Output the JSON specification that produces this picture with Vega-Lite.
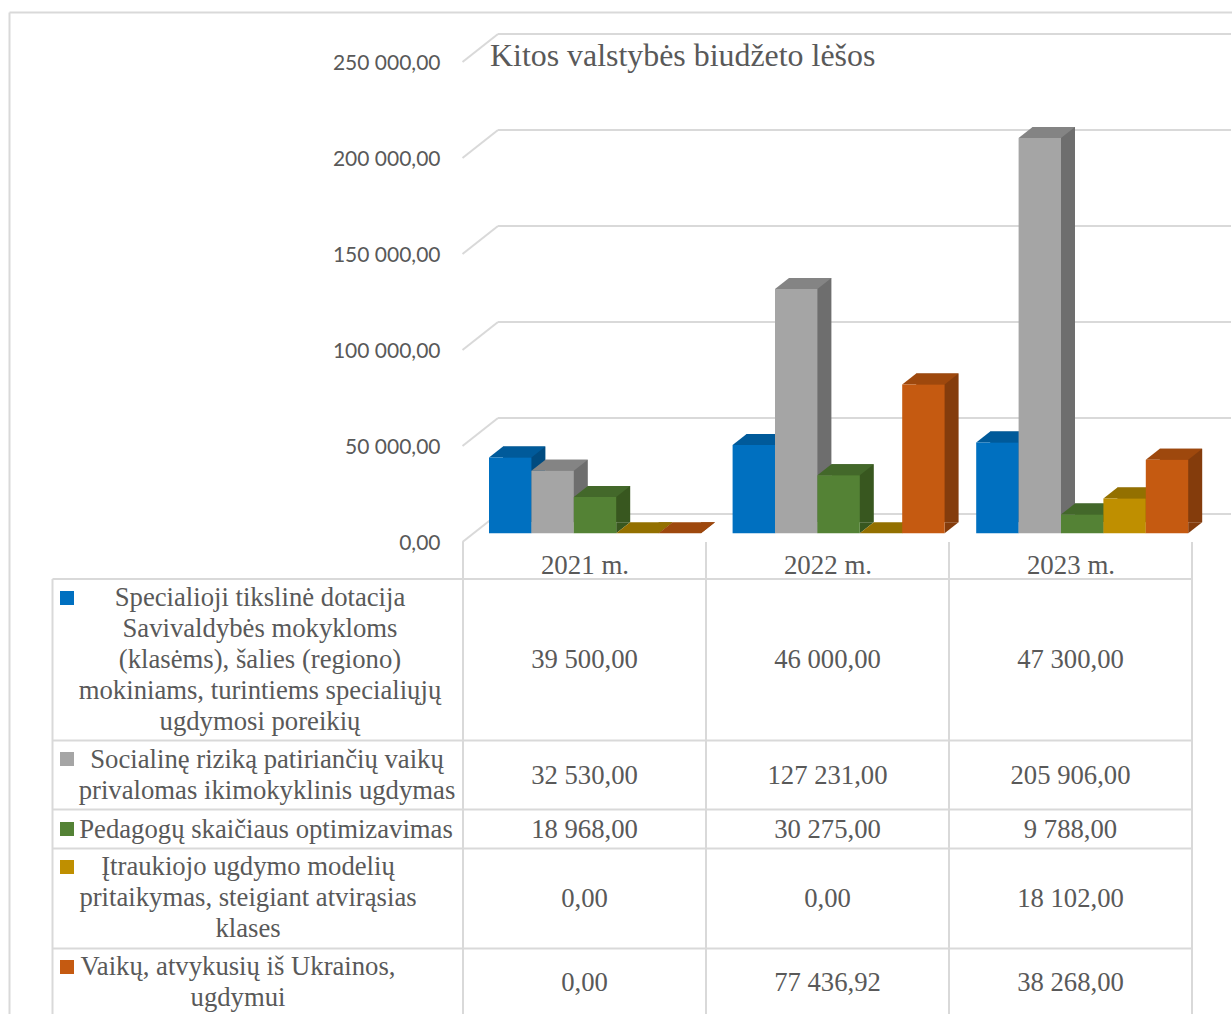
{
"$schema":"https://vega.github.io/schema/vega-lite/v6.json",
"width":1232,"height":1014,"padding":0,"autosize":{"type":"none"},"background":"white",
"config":{"view":{"stroke":null},"locale":{"number":{"decimal":",","thousands":" ","grouping":[3],"currency":["","€"]}}},
"title":{"text":"Kitos valstybės biudžeto lėšos","anchor":"start","frame":"group","orient":"top","offset":0,"dx":490,"dy":98,"baseline":"alphabetic","font":"Liberation Serif","fontSize":31.9,"fontWeight":"normal","color":"#595959"},
"datasets":{
"bars":[
{"year":"2021 m.","series":"S1","value":39500,"order":0},{"year":"2021 m.","series":"S2","value":32530,"order":1},{"year":"2021 m.","series":"S3","value":18968,"order":2},{"year":"2021 m.","series":"S4","value":0,"order":3},{"year":"2021 m.","series":"S5","value":0,"order":4},
{"year":"2022 m.","series":"S1","value":46000,"order":0},{"year":"2022 m.","series":"S2","value":127231,"order":1},{"year":"2022 m.","series":"S3","value":30275,"order":2},{"year":"2022 m.","series":"S4","value":0,"order":3},{"year":"2022 m.","series":"S5","value":77436.92,"order":4},
{"year":"2023 m.","series":"S1","value":47300,"order":0},{"year":"2023 m.","series":"S2","value":205906,"order":1},{"year":"2023 m.","series":"S3","value":9788,"order":2},{"year":"2023 m.","series":"S4","value":18102,"order":3},{"year":"2023 m.","series":"S5","value":38268,"order":4}],
"labels":[
{"series":"S1","order":0,"label":"Specialioji tikslinė dotacija\nSavivaldybės mokykloms\n(klasėms), šalies (regiono)\nmokiniams, turintiems specialiųjų\nugdymosi poreikių"},
{"series":"S2","order":1,"label":"Socialinę riziką patiriančių vaikų\nprivalomas ikimokyklinis ugdymas"},
{"series":"S3","order":2,"label":"Pedagogų skaičiaus optimizavimas"},
{"series":"S4","order":3,"label":"Įtraukiojo ugdymo modelių\npritaikymas, steigiant atvirąsias\nklases"},
{"series":"S5","order":4,"label":"Vaikų, atvykusių iš Ukrainos,\nugdymui"}],
"ticks":[{"tick":0},{"tick":50000},{"tick":100000},{"tick":150000},{"tick":200000},{"tick":250000}],
"grid":[
{"c1":-1,"c2":5,"r1":-2,"r2":-2},{"c1":-1,"c2":-1,"r1":-2,"r2":5},
{"c1":0,"c2":4,"r1":0,"r2":0},{"c1":0,"c2":4,"r1":1,"r2":1},{"c1":0,"c2":4,"r1":2,"r2":2},{"c1":0,"c2":4,"r1":3,"r2":3},{"c1":0,"c2":4,"r1":4,"r2":4},
{"c1":0,"c2":0,"r1":0,"r2":5},{"c1":1,"c2":1,"r1":-1,"r2":5},{"c1":2,"c2":2,"r1":-1,"r2":5},{"c1":3,"c2":3,"r1":-1,"r2":5},{"c1":4,"c2":4,"r1":-1,"r2":5}]
},
"resolve":{"scale":{"x":"independent","y":"independent","color":"independent","xOffset":"independent"},"axis":{"x":"independent","y":"independent"}},
"layer":[
{"data":{"name":"grid"},"mark":{"type":"rule","color":"#d9d9d9","strokeWidth":2},
 "encoding":{"x":{"field":"c1","type":"quantitative","axis":null,"scale":{"domain":[-1,0,1,2,3,4,5],"range":[9.5,52.5,463,706,949,1192,1232],"zero":false,"nice":false}},"x2":{"field":"c2"},
 "y":{"field":"r1","type":"quantitative","axis":null,"scale":{"domain":[-2,-1,0,1,2,3,4,5],"range":[12.5,542,579,740.5,809.5,848.5,948.5,1020],"zero":false,"nice":false}},"y2":{"field":"r2"}}},
{"data":{"name":"ticks"},"mark":{"type":"rule","color":"#d9d9d9","strokeWidth":2},
 "encoding":{"x":{"datum":0,"type":"quantitative","axis":null,"scale":{"domain":[0,1],"range":[498,1231],"zero":false,"nice":false}},"x2":{"datum":1},
 "y":{"field":"tick","type":"quantitative","axis":null,"scale":{"domain":[0,250000],"range":[514,34],"zero":false,"nice":false}}}},
{"data":{"name":"ticks"},"mark":{"type":"rule","color":"#d9d9d9","strokeWidth":2,"y2Offset":-28},
 "encoding":{"x":{"datum":0,"type":"quantitative","axis":null,"scale":{"domain":[0,1],"range":[462.5,498],"zero":false,"nice":false}},"x2":{"datum":1},
 "y":{"field":"tick","type":"quantitative","scale":{"domain":[0,250000],"range":[542,62],"zero":false,"nice":false},
  "axis":{"orient":"left","offset":-463,"title":null,"values":[0,50000,100000,150000,200000,250000],"format":",.2f","domain":false,"ticks":false,"grid":false,"labelPadding":23,"labelOffset":1,"labelFont":"Lato","labelFontSize":21,"labelColor":"#595959"}},"y2":{"field":"tick"}}},
{"data":{"name":"bars"},"mark":{"type":"bar","yOffset":-11,"y2Offset":-11},
 "encoding":{"x":{"field":"year","type":"nominal","axis":null,"scale":{"domain":["2021 m.","2022 m.","2023 m."],"range":[463,1193.8],"paddingInner":0,"paddingOuter":0}},
 "xOffset":{"field":"series","type":"nominal","scale":{"type":"band","domain":["S1","S2","S3","S4","S5"],"range":[40,252],"paddingInner":0,"paddingOuter":0}},
 "y":{"field":"value","type":"quantitative","axis":null,"scale":{"domain":[0,250000],"range":[533.3,53.3],"zero":false,"nice":false}},"y2":{"datum":0},
 "color":{"field":"series","type":"nominal","legend":null,"scale":{"domain":["S1","S2","S3","S4","S5"],"range":["#004b80","#6e6e6e","#38571f","#7f5f00","#843c0c"]}}}},
{"data":{"name":"bars"},"mark":{"type":"point","filled":true,"opacity":1,"size":4,"shape":"M21.2,0L35.2,-11L21.2,-11Z"},
 "encoding":{"x":{"field":"year","type":"nominal","axis":null,"scale":{"domain":["2021 m.","2022 m.","2023 m."],"range":[463,1193.8],"paddingInner":0,"paddingOuter":0}},
 "xOffset":{"field":"series","type":"nominal","scale":{"type":"band","domain":["S1","S2","S3","S4","S5"],"range":[26,238],"paddingInner":0,"paddingOuter":0}},
 "y":{"datum":0,"type":"quantitative","axis":null,"scale":{"domain":[0,250000],"range":[533.3,53.3],"zero":false,"nice":false}},
 "color":{"field":"series","type":"nominal","legend":null,"scale":{"domain":["S1","S2","S3","S4","S5"],"range":["#004b80","#6e6e6e","#38571f","#7f5f00","#843c0c"]}}}},
{"data":{"name":"bars"},"mark":{"type":"point","filled":true,"opacity":1,"size":4,"shape":"M-21.2,0L21.2,0L35.2,-11L-7.2,-11Z"},
 "encoding":{"x":{"field":"year","type":"nominal","axis":null,"scale":{"domain":["2021 m.","2022 m.","2023 m."],"range":[463,1193.8],"paddingInner":0,"paddingOuter":0}},
 "xOffset":{"field":"series","type":"nominal","scale":{"type":"band","domain":["S1","S2","S3","S4","S5"],"range":[26,238],"paddingInner":0,"paddingOuter":0}},
 "y":{"field":"value","type":"quantitative","axis":null,"scale":{"domain":[0,250000],"range":[533.3,53.3],"zero":false,"nice":false}},
 "color":{"field":"series","type":"nominal","legend":null,"scale":{"domain":["S1","S2","S3","S4","S5"],"range":["#005a9a","#848484","#43682a","#937000","#9e480d"]}}}},
{"data":{"name":"bars"},"mark":{"type":"bar"},
 "encoding":{"x":{"field":"year","type":"nominal","axis":null,"scale":{"domain":["2021 m.","2022 m.","2023 m."],"range":[463,1193.8],"paddingInner":0,"paddingOuter":0}},
 "xOffset":{"field":"series","type":"nominal","scale":{"type":"band","domain":["S1","S2","S3","S4","S5"],"range":[26,238],"paddingInner":0,"paddingOuter":0}},
 "y":{"field":"value","type":"quantitative","axis":null,"scale":{"domain":[0,250000],"range":[533.3,53.3],"zero":false,"nice":false}},"y2":{"datum":0},
 "color":{"field":"series","type":"nominal","legend":null,"scale":{"domain":["S1","S2","S3","S4","S5"],"range":["#0070c0","#a5a5a5","#548235","#bf8f00","#c55a11"]}}}},
{"data":{"name":"bars"},"mark":{"type":"text","font":"Liberation Serif","fontSize":26.7,"color":"#595959","baseline":"middle","align":"center"},
 "encoding":{"x":{"field":"year","type":"nominal","scale":{"domain":["2021 m.","2022 m.","2023 m."],"range":[463,1192],"paddingInner":0,"paddingOuter":0},
  "axis":{"orient":"bottom","offset":-464,"title":null,"domain":false,"ticks":false,"grid":false,"labelAngle":0,"labelPadding":2,"labelFont":"Liberation Serif","labelFontSize":26.9,"labelColor":"#595959"}},
 "y":{"field":"order","type":"quantitative","axis":null,"scale":{"domain":[0,1,2,3,4],"range":[660,776,829.5,898.5,983],"zero":false,"nice":false}},
 "text":{"field":"value","type":"quantitative","format":",.2f"}}},
{"data":{"name":"labels"},"mark":{"type":"text","font":"Liberation Serif","fontSize":26.7,"color":"#595959","baseline":"middle","align":"center","lineBreak":"\n","lineHeight":31},
 "encoding":{"x":{"field":"order","type":"quantitative","axis":null,"scale":{"domain":[0,1,2,3,4],"range":[260,267,266,248,238],"zero":false,"nice":false}},
 "y":{"field":"order","type":"quantitative","axis":null,"scale":{"domain":[0,1,2,3,4],"range":[597.5,760,829.5,867,967],"zero":false,"nice":false}},
 "text":{"field":"label","type":"nominal"}}},
{"data":{"name":"labels"},"mark":{"type":"point","shape":"square","filled":true,"opacity":1,"size":196},
 "encoding":{"x":{"datum":0,"type":"quantitative","axis":null,"scale":{"domain":[0,1],"range":[67,68],"zero":false,"nice":false}},
 "y":{"field":"order","type":"quantitative","axis":null,"scale":{"domain":[0,1,2,3,4],"range":[598,759,829,867,967],"zero":false,"nice":false}},
 "color":{"field":"series","type":"nominal","legend":null,"scale":{"domain":["S1","S2","S3","S4","S5"],"range":["#0070c0","#a5a5a5","#548235","#bf8f00","#c55a11"]}}}}
]}
